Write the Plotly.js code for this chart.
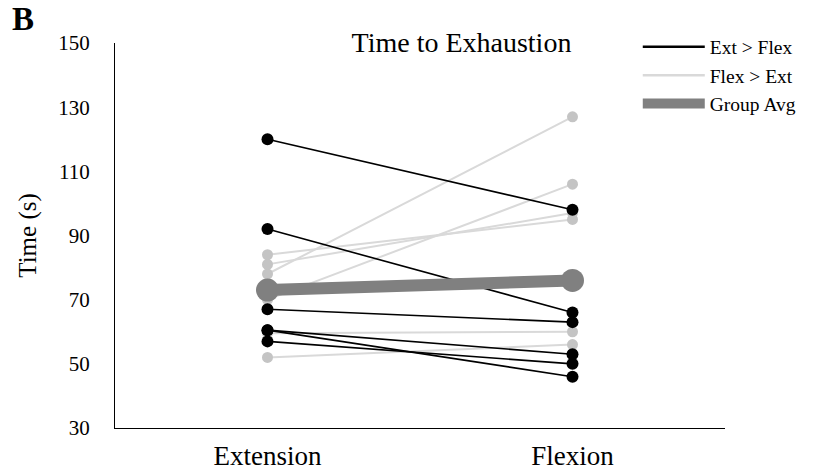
<!DOCTYPE html>
<html>
<head>
<meta charset="utf-8">
<script src="https://cdn.plot.ly/plotly-3.0.1.min.js"></script>
<style>html,body{margin:0;padding:0;background:#fff;}#chart{width:823px;height:473px;}</style>
</head>
<body>
<div id="chart"></div>
<script>
const categories = ['Extension', 'Flexion'];
// Ext > Flex subjects
const extFlexExt = [120, 92, 67, 60.5, 60.5, 57];
const extFlexFlex = [98, 66, 63, 53, 46, 50];
// Flex > Ext subjects
const flexExtExt = [78, 70, 84, 81, 59.5, 52];
const flexExtFlex = [127, 106, 95, 97, 60, 56];
// Group average
const avgValues = [73, 76];
const yTicks = [30, 50, 70, 90, 110, 130, 150];

function pairs(a, b) {
  const x = [], y = [];
  for (let i = 0; i < a.length; i++) {
    x.push(categories[0], categories[1], null);
    y.push(a[i], b[i], null);
  }
  return {x, y};
}

const serif = 'Liberation Serif, Times New Roman, serif';
const g = pairs(flexExtExt, flexExtFlex);
const k = pairs(extFlexExt, extFlexFlex);

const traces = [
  {x: g.x, y: g.y, mode: 'lines+markers', showlegend: false, connectgaps: false,
   line: {color: '#d9d9d9', width: 2}, marker: {color: '#c4c4c4', size: 11}},
  {x: k.x, y: k.y, mode: 'lines+markers', showlegend: false, connectgaps: false,
   line: {color: '#000000', width: 1.6}, marker: {color: '#000000', size: 12}},
  {x: categories, y: avgValues, mode: 'lines+markers', showlegend: false,
   line: {color: '#808080', width: 12}, marker: {color: '#808080', size: 23}},
  {x: [null], y: [null], mode: 'lines', name: 'Ext > Flex', line: {color: '#000000', width: 2.5}},
  {x: [null], y: [null], mode: 'lines', name: 'Flex > Ext', line: {color: '#d9d9d9', width: 2.5}},
  {x: [null], y: [null], mode: 'lines', name: 'Group Avg', line: {color: '#808080', width: 10}}
];

const layout = {
  width: 823, height: 473,
  margin: {l: 115, r: 98, t: 43, b: 45},
  paper_bgcolor: '#ffffff', plot_bgcolor: '#ffffff',
  font: {family: serif, color: '#000'},
  title: {text: 'Time to Exhaustion', font: {family: serif, size: 28, color: '#000'},
          xref: 'paper', x: 0.568, xanchor: 'center', yref: 'container', y: 0.911, yanchor: 'middle'},
  xaxis: {type: 'category', range: [-0.5, 1.5], showline: true, linecolor: '#000', linewidth: 1,
          showgrid: false, zeroline: false, ticks: '', ticklabelstandoff: 4,
          tickfont: {family: serif, size: 27, color: '#000'}, fixedrange: true},
  yaxis: {range: [30, 150], tickvals: yTicks, showline: true, linecolor: '#000', linewidth: 1,
          showgrid: false, zeroline: false, ticks: '', ticklabelstandoff: 20,
          tickfont: {family: serif, size: 21, color: '#000'},
          title: {text: 'Time (s)', font: {family: serif, size: 25, color: '#000'}, standoff: 14}},
  legend: {x: 0.857, xanchor: 'left', y: 1.04, yanchor: 'top', bgcolor: 'rgba(0,0,0,0)',
           font: {family: serif, size: 19.5, color: '#000'}, itemwidth: 62, tracegroupgap: 0},
  annotations: [
    {text: '<b>B</b>', xref: 'paper', yref: 'paper', x: -0.172, y: 1.062, xanchor: 'left', yanchor: 'middle',
     showarrow: false, font: {family: serif, size: 33, color: '#000'}}
  ],
  showlegend: true
};

Plotly.newPlot('chart', traces, layout, {displayModeBar: false, staticPlot: true});
</script>
</body>
</html>
